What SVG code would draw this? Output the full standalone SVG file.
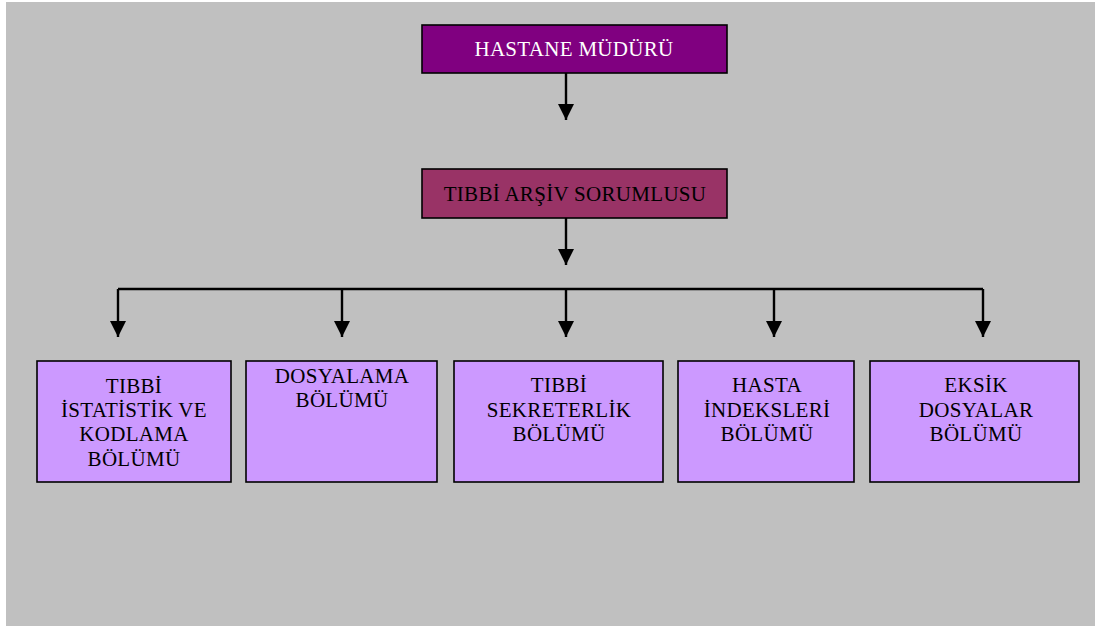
<svg xmlns="http://www.w3.org/2000/svg" width="1095" height="626" viewBox="0 0 1095 626">
  <style>
    text { font-family: "Liberation Serif", "Times New Roman", serif; font-size: 21px; letter-spacing: 0.3px; text-anchor: middle; }
    .box { stroke: #000; stroke-width: 1.6; }
    .top { fill: #800080; }
    .mid { fill: #993366; }
    .dept { fill: #cc99ff; }
    .wire { fill: none; stroke: #000; stroke-width: 2.4; }
  </style>
  <defs>
    <marker id="head" viewBox="0 0 16 16" refX="16" refY="8" markerWidth="16" markerHeight="16" markerUnits="userSpaceOnUse" orient="auto">
      <path d="M0,0 L16,8 L0,16 Z" fill="#000"/>
    </marker>
  </defs>

  <rect x="6" y="2" width="1089" height="624" fill="#c0c0c0"/>

  <g id="connectors">
    <line class="wire" x1="566" y1="73" x2="566" y2="120" marker-end="url(#head)"/>
    <line class="wire" x1="566" y1="218" x2="566" y2="265" marker-end="url(#head)"/>
    <polyline class="wire" points="118,289 983,289"/>
    <line class="wire" x1="118" y1="289" x2="118" y2="337" marker-end="url(#head)"/>
    <line class="wire" x1="342" y1="289" x2="342" y2="337" marker-end="url(#head)"/>
    <line class="wire" x1="566" y1="289" x2="566" y2="337" marker-end="url(#head)"/>
    <line class="wire" x1="774" y1="289" x2="774" y2="337" marker-end="url(#head)"/>
    <line class="wire" x1="983" y1="289" x2="983" y2="337" marker-end="url(#head)"/>
  </g>

  <g id="hastane-muduru">
    <rect class="box top" x="422" y="25" width="305" height="48"/>
    <text x="574" y="56" fill="#ffffff">HASTANE MÜDÜRÜ</text>
  </g>

  <g id="tibbi-arsiv-sorumlusu">
    <rect class="box mid" x="422" y="169" width="305" height="49"/>
    <text x="575" y="201" fill="#000">TIBBİ ARŞİV SORUMLUSU</text>
  </g>

  <g id="istatistik-kodlama">
    <rect class="box dept" x="37" y="361" width="194" height="121"/>
    <text x="134" y="393">TIBBİ</text>
    <text x="134" y="417">İSTATİSTİK VE</text>
    <text x="134" y="441">KODLAMA</text>
    <text x="134" y="466">BÖLÜMÜ</text>
  </g>

  <g id="dosyalama">
    <rect class="box dept" x="246" y="361" width="191" height="121"/>
    <text x="342" y="383">DOSYALAMA</text>
    <text x="342" y="407">BÖLÜMÜ</text>
  </g>

  <g id="sekreterlik">
    <rect class="box dept" x="454" y="361" width="209" height="121"/>
    <text x="559" y="392">TIBBİ</text>
    <text x="559" y="417">SEKRETERLİK</text>
    <text x="559" y="441">BÖLÜMÜ</text>
  </g>

  <g id="hasta-indeksleri">
    <rect class="box dept" x="678" y="361" width="176" height="121"/>
    <text x="767" y="392">HASTA</text>
    <text x="767" y="417">İNDEKSLERİ</text>
    <text x="767" y="441">BÖLÜMÜ</text>
  </g>

  <g id="eksik-dosyalar">
    <rect class="box dept" x="870" y="361" width="209" height="121"/>
    <text x="976" y="392">EKSİK</text>
    <text x="976" y="417">DOSYALAR</text>
    <text x="976" y="441">BÖLÜMÜ</text>
  </g>
</svg>
